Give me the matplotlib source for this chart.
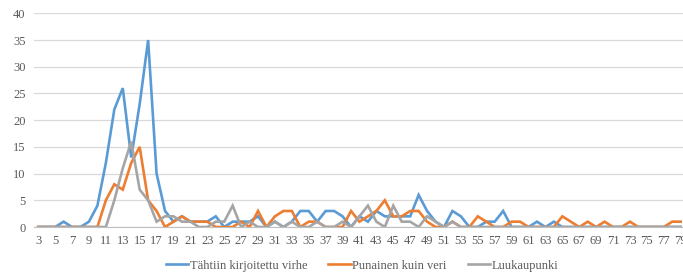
import numpy as np
import matplotlib
matplotlib.use("Agg")
import matplotlib.pyplot as plt

# chapters 3..79
chapters = list(range(3, 80))

tahtiin = [0, 0, 0, 1, 0, 0, 1, 4, 12, 22, 26, 13, 23, 35, 10, 3, 1, 2, 1, 1,
           1, 2, 0, 1, 1, 1, 2, 0, 1, 0, 1, 3, 3, 1, 3, 3, 2, 0, 2, 1,
           3, 2, 2, 2, 2, 6, 3, 1, 0, 3, 2, 0, 0, 1, 1, 3, 0, 0, 0, 1,
           0, 1, 0, 0, 0, 0, 0, 0, 0, 0, 0, 0, 0, 0, 0, 0, 0]
punainen = [0, 0, 0, 0, 0, 0, 0, 0, 5, 8, 7, 12, 15, 5, 3, 0, 1, 2, 1, 1,
            1, 0, 0, 0, 1, 0, 3, 0, 2, 3, 3, 0, 1, 1, 0, 0, 0, 3, 1, 2,
            3, 5, 2, 2, 3, 3, 1, 0, 0, 1, 0, 0, 2, 1, 0, 0, 1, 1, 0, 0,
            0, 0, 2, 1, 0, 1, 0, 1, 0, 0, 1, 0, 0, 0, 0, 1, 1]
luukaupunki = [0, 0, 0, 0, 0, 0, 0, 0, 0, 5, 11, 16, 7, 5, 1, 2, 2, 1, 1, 0,
               0, 1, 1, 4, 0, 1, 0, 0, 1, 0, 1, 0, 0, 1, 0, 0, 1, 0, 2, 4,
               1, 0, 4, 1, 1, 0, 2, 1, 0, 1, 0, 0, 0, 0, 0, 0, 0, 0, 0, 0,
               0, 0, 0, 0, 0, 0, 0, 0, 0, 0, 0, 0, 0, 0, 0, 0, 0]

names = ["Tähtiin kirjoitettu virhe", "Punainen kuin veri", "Luukaupunki"]
colors = ["#5B9BD5", "#ED7D31", "#A5A5A5"]

plt.rcParams['font.family'] = ['Liberation Serif', 'DejaVu Serif']

fig = plt.figure(figsize=(6.83, 2.72), dpi=100)
ax = fig.add_axes([0.0498, 0.1654, 0.953, 0.7856])

for vals, name, c in zip([tahtiin, punainen, luukaupunki], names, colors):
    ax.plot(chapters, vals, color=c, lw=1.9, label=name, solid_joinstyle='miter')

ax.set_xlim(2.5, 79.5)
ax.set_ylim(0, 40)
ax.set_yticks(range(0, 41, 5))
ax.set_xticks(chapters[::2])
ax.set_xticklabels([str(c) for c in chapters[::2]])
ax.tick_params(length=0, labelsize=9, colors="#595959", pad=6)
ax.grid(axis='y', color="#D9D9D9", lw=0.9)
ax.set_axisbelow(True)
for s in ["top", "right", "left"]:
    ax.spines[s].set_visible(False)
ax.spines["bottom"].set_color("#BFBFBF")

fig.legend(loc='lower center', bbox_to_anchor=(0.53, -0.04), ncol=3, frameon=False,
           fontsize=9, handlelength=1.8, handletextpad=0.1, columnspacing=1.7,
           labelcolor="#595959")

fig.savefig("out.png", dpi=100)
